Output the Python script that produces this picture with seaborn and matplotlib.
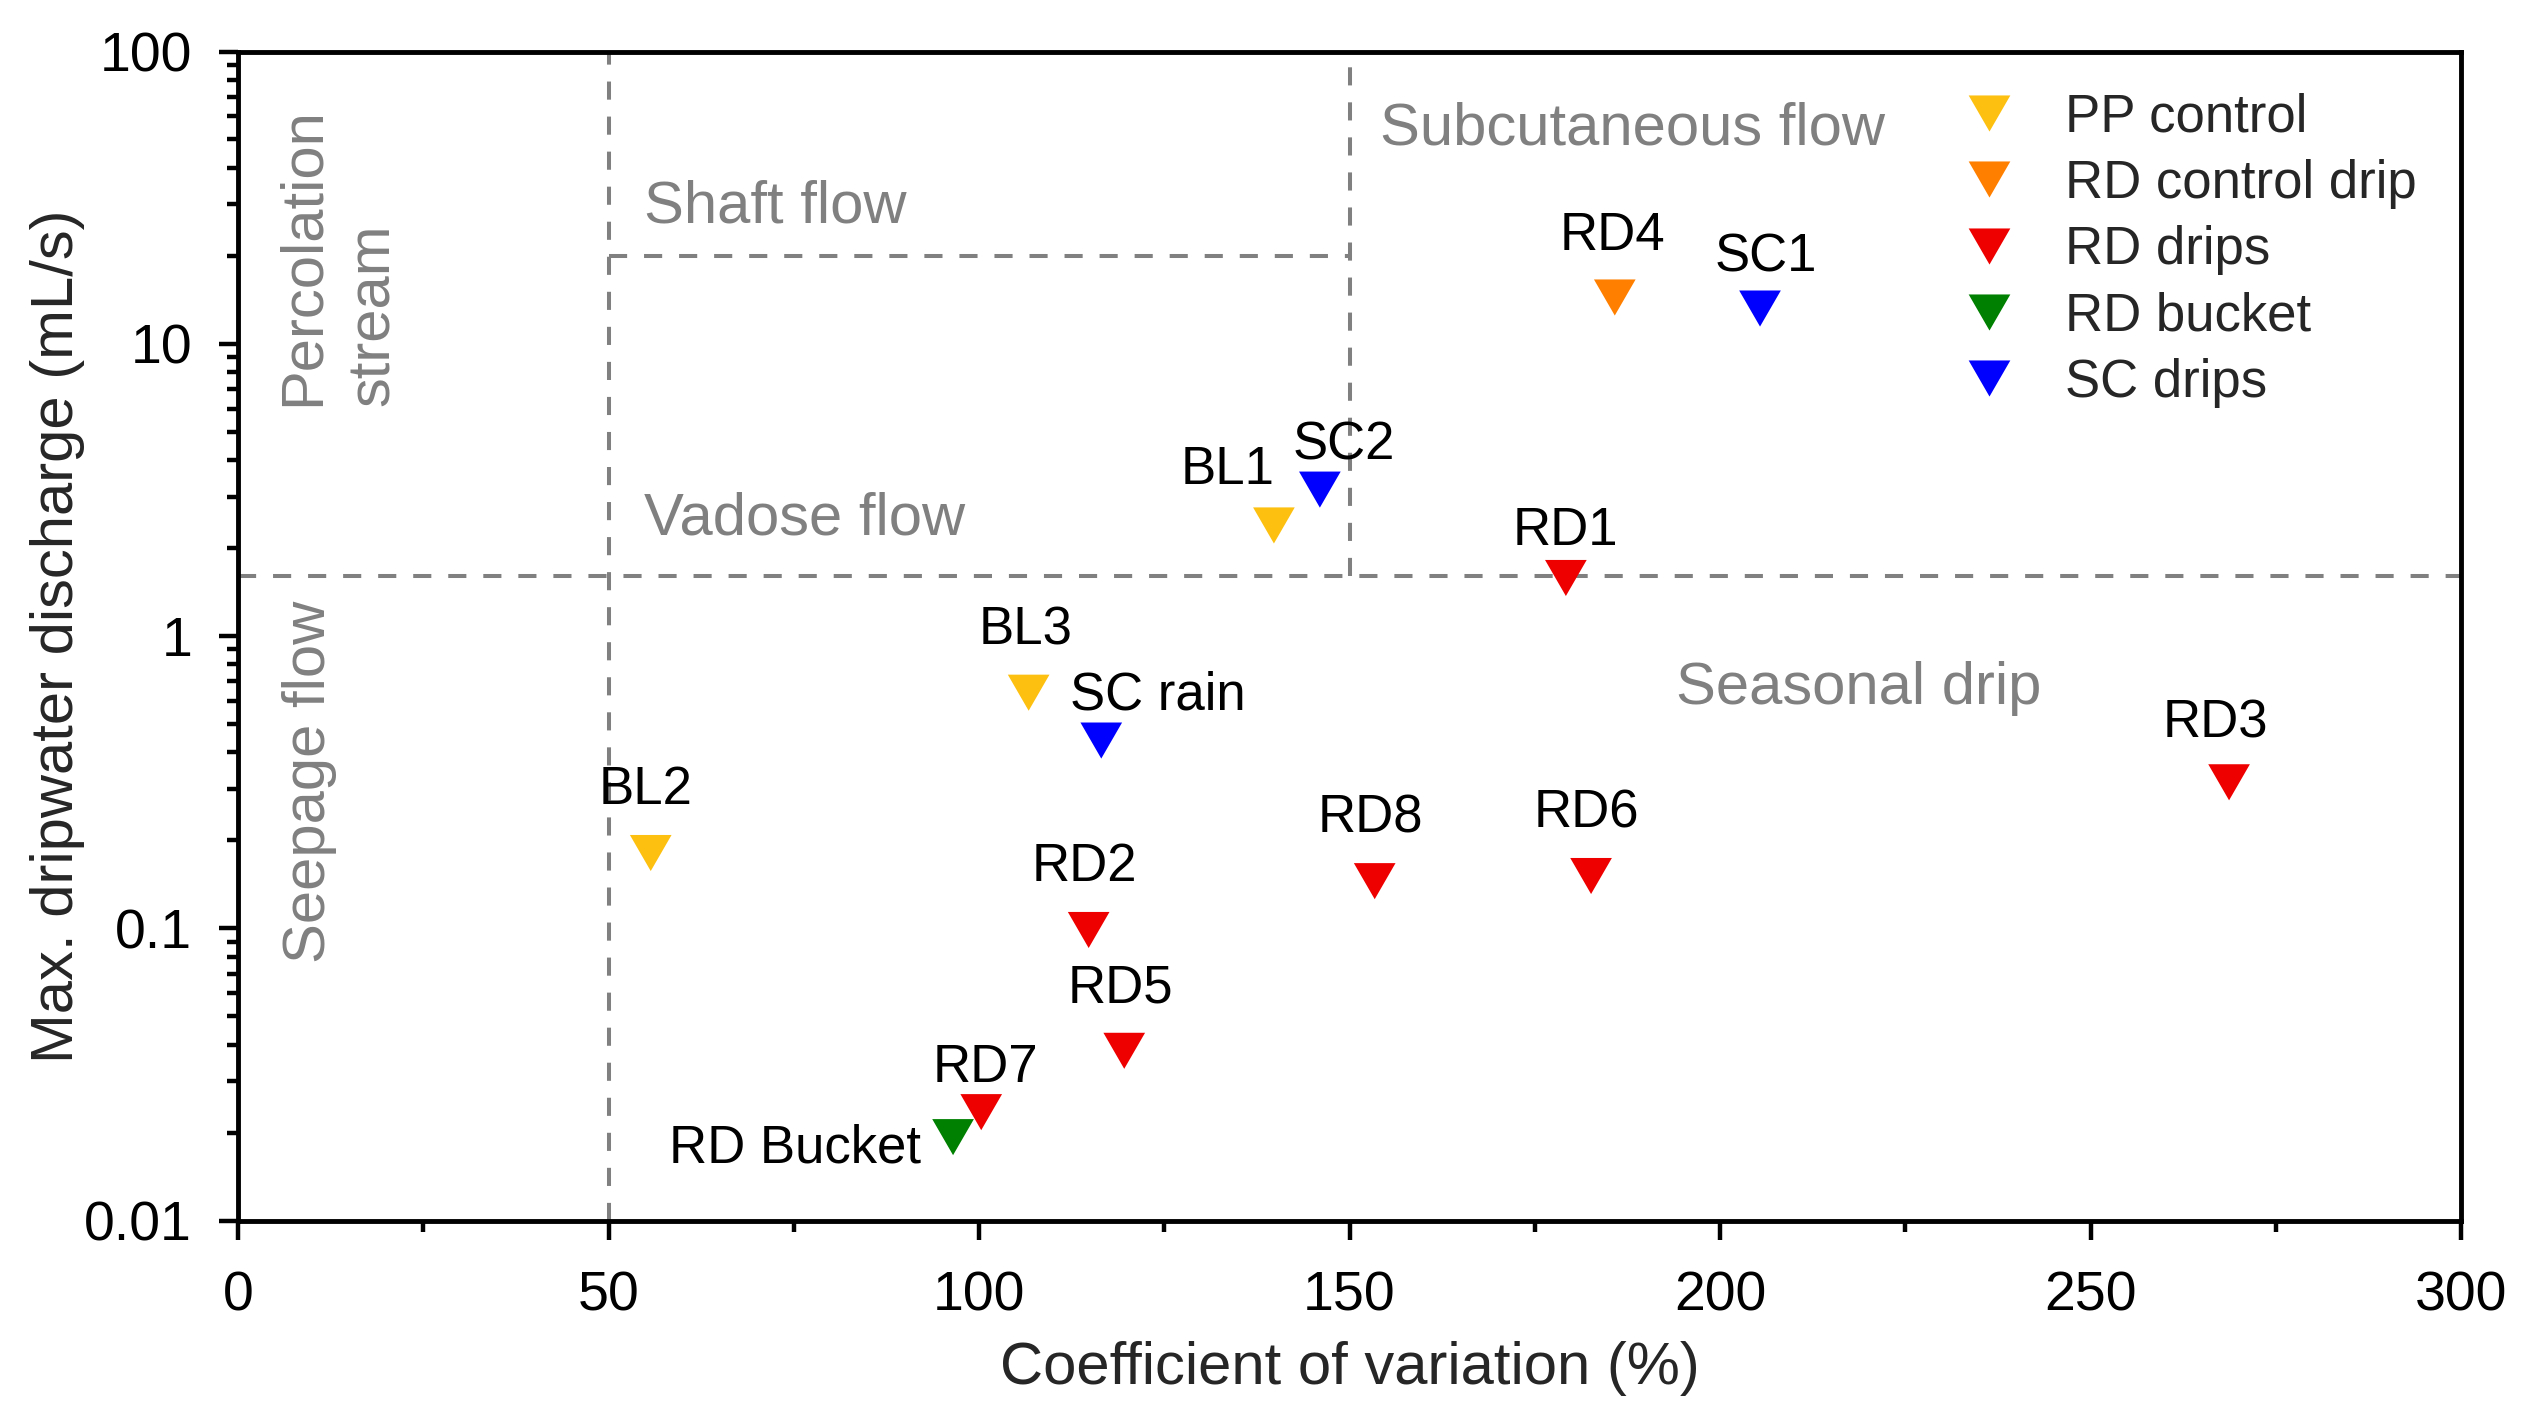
import numpy as np
import pandas as pd
import matplotlib
matplotlib.use("Agg")
import matplotlib.pyplot as plt
from matplotlib.path import Path
from matplotlib.lines import Line2D
from matplotlib.ticker import FixedLocator, MultipleLocator, NullFormatter, FuncFormatter
import seaborn as sns

# dados
nomes = ["BL1", "BL3", "BL2",
         "RD4",
         "RD1", "RD8", "RD6", "RD3", "RD2", "RD5", "RD7",
         "RD Bucket",
         "SC1", "SC2", "SC rain"]
grupos = ["PP control"] * 3 + ["RD control drip"] + ["RD drips"] * 7 + ["RD bucket"] + ["SC drips"] * 3
cv = [139.8, 106.7, 55.7,
      185.8,
      179.2, 153.4, 182.6, 268.7, 114.8, 119.6, 100.3,
      96.5,
      205.4, 146.0, 116.5]
descarga = [2.39, 0.64, 0.181,
            14.4,
            1.58, 0.145, 0.151, 0.316, 0.0987, 0.0381, 0.0235,
            0.0193,
            13.2, 3.17, 0.439]

ordem_grupos = ["PP control", "RD control drip", "RD drips", "RD bucket", "SC drips"]
cores = {"PP control": "#FDC010", "RD control drip": "#FF8000", "RD drips": "#EE0000",
         "RD bucket": "#008000", "SC drips": "#0000FF"}

# deslocamento dos rotulos (pontos)
desloc = {"BL1": (-33, 30), "SC2": (17, 22), "RD1": (0, 24), "RD4": (-2, 34), "SC1": (4, 27),
          "BL3": (-2, 35), "SC rain": (41, 22), "RD8": (-3, 35), "RD6": (-3, 35), "RD3": (-10, 32),
          "BL2": (-4, 35), "RD2": (-3, 35), "RD5": (-3, 35), "RD7": (3, 22), "RD Bucket": (-23, -18)}

tabela = pd.DataFrame({"nome": nomes, "grupo": grupos, "cv": cv, "q": descarga})

sns.set_style("ticks")
plt.rcParams["font.family"] = ["Liberation Sans", "DejaVu Sans"]

fig = plt.figure(figsize=(25.25, 14.19), dpi=100)
ax = fig.add_axes([238 / 2525, 1 - 1220.6 / 1419, 2223 / 2525, 1169.1 / 1419])

# triangulo equilatero para baixo
tri = Path([(-1, 0.866), (1, 0.866), (0, -0.866), (-1, 0.866)],
           [Path.MOVETO, Path.LINETO, Path.LINETO, Path.CLOSEPOLY])

cinza = "#808080"
tracejado = (0, (4.5, 4.2))
ax.axvline(50, color=cinza, lw=2.9, ls=tracejado, zorder=1)
ax.axhline(1.6, color=cinza, lw=2.9, ls=tracejado, zorder=1)
ax.plot([150, 150], [1.6, 100], color=cinza, lw=2.9, ls=tracejado, zorder=1)
ax.plot([50, 150], [20, 20], color=cinza, lw=2.9, ls=tracejado, zorder=1)

sns.scatterplot(data=tabela, x="cv", y="q", hue="grupo", hue_order=ordem_grupos, palette=cores,
                marker=tri, s=900, linewidth=0, legend=False, ax=ax, zorder=3)

ax.set_yscale("log")
ax.set_xlim(0, 300)
ax.set_ylim(0.01, 100)

for n, x, y in zip(nomes, cv, descarga):
    dx, dy = desloc[n]
    ax.annotate(n, (x, y), xytext=(dx, dy), textcoords="offset points",
                ha="right" if n == "RD Bucket" else "center", va="baseline",
                fontsize=38, color="black", zorder=4)

# regioes
fs_reg = 43
ax.text(13.5, 6.12, "Percolation\nstream", rotation=90, ha="center", va="bottom",
        multialignment="left", linespacing=1.35, fontsize=fs_reg, color=cinza)
ax.text(9.7, 0.318, "Seepage flow", rotation=90, ha="center", va="center", fontsize=fs_reg, color=cinza)
ax.text(54.8, 26.1, "Shaft flow", ha="left", va="baseline", fontsize=fs_reg, color=cinza)
ax.text(154.1, 47.9, "Subcutaneous flow", ha="left", va="baseline", fontsize=fs_reg, color=cinza)
ax.text(54.8, 2.22, "Vadose flow", ha="left", va="baseline", fontsize=fs_reg, color=cinza)
ax.text(194.1, 0.587, "Seasonal drip", ha="left", va="baseline", fontsize=fs_reg, color=cinza)

# eixos
ax.xaxis.set_major_locator(MultipleLocator(50))
ax.xaxis.set_minor_locator(MultipleLocator(25))
ax.yaxis.set_major_locator(FixedLocator([0.01, 0.1, 1, 10, 100]))
ax.yaxis.set_major_formatter(FuncFormatter(lambda v, p: "{:g}".format(v)))
ax.yaxis.set_minor_formatter(NullFormatter())
ax.tick_params(axis="both", which="major", length=14, width=3.2, labelsize=40, direction="out",
               color="black", labelcolor="black")
ax.tick_params(axis="x", which="major", pad=22)
ax.tick_params(axis="y", which="major", pad=19)
ax.tick_params(axis="both", which="minor", length=8, width=3.2, direction="out", color="black")
for s in ax.spines.values():
    s.set_linewidth(3.5)
    s.set_color("black")

ax.set_xlabel("Coefficient of variation (%)", fontsize=43)
ax.set_ylabel("Max. dripwater discharge (mL/s)", fontsize=43)
ax.xaxis.set_label_coords(0.5, -0.103)
ax.yaxis.set_label_coords(-0.069, 0.5)

# legenda
alcas = [Line2D([], [], marker=tri, markersize=30, color=cores[g], lw=0, markeredgewidth=0, label=g)
         for g in ordem_grupos]
ax.legend(handles=alcas, loc="upper left", bbox_to_anchor=(0.776, 0.965), frameon=False,
          fontsize=38, handlelength=1.0, handletextpad=0.93, labelspacing=0.31,
          borderpad=0, borderaxespad=0)

fig.savefig("out.png", dpi=100)
